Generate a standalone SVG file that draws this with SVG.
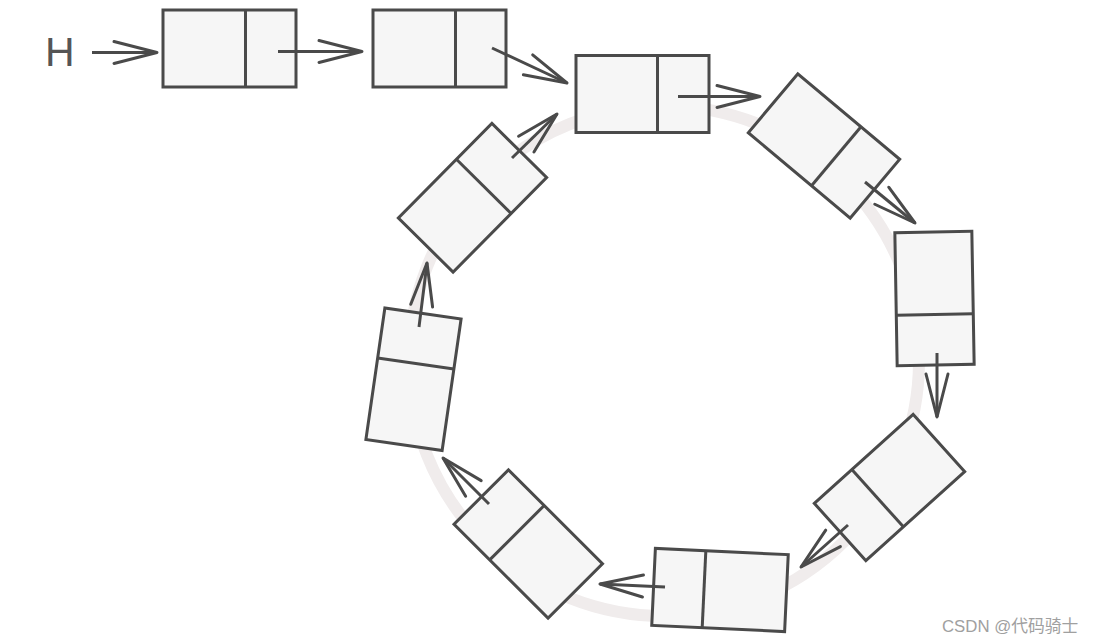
<svg xmlns="http://www.w3.org/2000/svg" width="1094" height="644" viewBox="0 0 1094 644">
<style>
.node rect{fill:#f6f6f6;stroke:#4a4a4a;stroke-width:3}
.node line{stroke:#4a4a4a;stroke-width:3}
.conn line{stroke:#4a4a4a;stroke-width:3;marker-end:url(#arr)}
.lbl{font-family:"Liberation Sans",Arial,sans-serif;fill:#555}
.wm{font-family:"Liberation Sans","Noto Sans CJK SC",sans-serif;fill:#a0a0a0;font-size:16.8px}
</style>
<defs>
<marker id="arr" markerUnits="userSpaceOnUse" markerWidth="60" markerHeight="30" refX="0" refY="0" orient="auto" overflow="visible">
<path d="M-43,-11 L0,0 L-43,11" fill="none" stroke="#4a4a4a" stroke-width="3" stroke-linejoin="round" stroke-linecap="round"/>
</marker>
</defs>
<rect width="1094" height="644" fill="#ffffff"/>
<circle id="ring" cx="664" cy="361" r="255" fill="none" stroke="#f0ecec" stroke-width="12"/>
<text id="H" class="lbl" x="45" y="66" font-size="41">H</text>
<g id="n1" class="node" transform="translate(229.5,48.5)"><rect x="-66.5" y="-38.5" width="133" height="77"/><line x1="16" y1="-38.5" x2="16" y2="38.5"/></g>
<g id="n2" class="node" transform="translate(439.5,48.5)"><rect x="-66.5" y="-38.5" width="133" height="77"/><line x1="16" y1="-38.5" x2="16" y2="38.5"/></g>
<g id="n3" class="node" transform="translate(642.5,94)"><rect x="-66.5" y="-38.5" width="133" height="77"/><line x1="15" y1="-38.5" x2="15" y2="38.5"/></g>
<g id="n4" class="node" transform="translate(824,146) rotate(40)"><rect x="-66.5" y="-38.5" width="133" height="77"/><line x1="16" y1="-38.5" x2="16" y2="38.5"/></g>
<g id="n5" class="node" transform="translate(934.5,298.5) rotate(89)"><rect x="-66.5" y="-38.5" width="133" height="77"/><line x1="16" y1="-38.5" x2="16" y2="38.5"/></g>
<g id="n6" class="node" transform="translate(889.5,487.5) rotate(138)"><rect x="-66.5" y="-38.5" width="133" height="77"/><line x1="16" y1="-38.5" x2="16" y2="38.5"/></g>
<g id="n7" class="node" transform="translate(720,590) rotate(182.7)"><rect x="-66.5" y="-38.5" width="133" height="77"/><line x1="16" y1="-38.5" x2="16" y2="38.5"/></g>
<g id="n8" class="node" transform="translate(528.25,544) rotate(225)"><rect x="-66.5" y="-38.5" width="133" height="77"/><line x1="16" y1="-38.5" x2="16" y2="38.5"/></g>
<g id="n9" class="node" transform="translate(413.5,379.25) rotate(-81.8)"><rect x="-66.5" y="-38.5" width="133" height="77"/><line x1="16" y1="-38.5" x2="16" y2="38.5"/></g>
<g id="n10" class="node" transform="translate(472.5,197.75) rotate(-45.3)"><rect x="-66.5" y="-38.5" width="133" height="77"/><line x1="16" y1="-38.5" x2="16" y2="38.5"/></g>
<g id="connectors" class="conn">
<line x1="92" y1="52.5" x2="157" y2="52.5"/>
<line x1="278" y1="51.5" x2="362" y2="51.5"/>
<line x1="492" y1="48" x2="567" y2="83"/>
<line x1="678" y1="96.5" x2="760" y2="96.5"/>
<line x1="865" y1="182" x2="915" y2="223"/>
<line x1="937" y1="353" x2="937" y2="417"/>
<line x1="848" y1="525" x2="801" y2="567"/>
<line x1="665" y1="587" x2="600" y2="584"/>
<line x1="489" y1="504" x2="443" y2="458"/>
<line x1="419" y1="327" x2="427" y2="263"/>
<line x1="512" y1="158" x2="557" y2="114"/>
</g>
<text id="watermark" class="wm" x="942" y="632">CSDN @代码骑士</text>
</svg>
